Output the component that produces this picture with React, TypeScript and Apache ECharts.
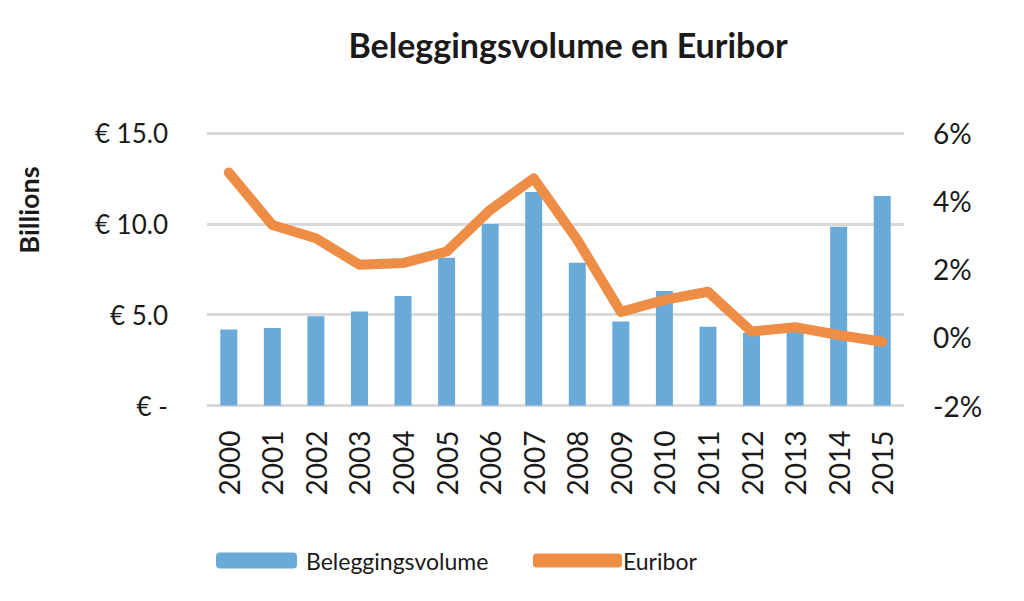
import React, { useEffect, useRef } from "react";
import * as echarts from "echarts";

const years = ["2000","2001","2002","2003","2004","2005","2006","2007","2008","2009","2010","2011","2012","2013","2014","2015"];
const volume = [4.19, 4.27, 4.91, 5.18, 6.03, 8.13, 9.99, 11.75, 7.86, 4.62, 6.30, 4.34, 4.0, 4.1, 9.84, 11.53];
const euribor = [4.84, 3.30, 2.91, 2.13, 2.18, 2.52, 3.74, 4.67, 2.86, 0.75, 1.10, 1.34, 0.17, 0.30, 0.07, -0.13];

const FONT = "Lato";
const TXT = "#1a1a1a";

export default function App() {
  const ref = useRef<HTMLDivElement>(null);
  useEffect(() => {
    if (!ref.current) return;
    const chart = echarts.init(ref.current, null, { renderer: "svg" });
    chart.setOption({
      animation: false,
      backgroundColor: "#ffffff",
      title: {
        text: "Beleggingsvolume en Euribor",
        left: 563,
        textAlign: "center",
        top: 22,
        textStyle: { fontFamily: FONT, fontSize: 34, fontWeight: "bold", color: TXT },
      },
      graphic: [
        {
          type: "text",
          x: 28,
          y: 210,
          rotation: Math.PI / 2,
          style: {
            text: "Billions",
            font: `bold 27px ${FONT}`,
            fill: TXT,
            align: "center",
            verticalAlign: "middle",
            textAlign: "center",
            textVerticalAlign: "middle",
          },
        },
      ],
      legend: [
        {
          data: ["Beleggingsvolume"],
          left: 216,
          top: 549,
          padding: 0,
          itemWidth: 81,
          itemHeight: 16,
          textStyle: { fontFamily: FONT, fontSize: 23, color: TXT, padding: [0, 0, 0, 4] },
        },
        {
          data: [{ name: "Euribor", icon: "roundRect" }],
          left: 533,
          top: 549,
          padding: 0,
          itemWidth: 89,
          itemHeight: 14,
          textStyle: { fontFamily: FONT, fontSize: 23, color: TXT, padding: [0, 0, 0, -4] },
        },
      ],
      grid: { left: 207, right: 120, top: 133, bottom: 195.5, containLabel: false },
      xAxis: {
        type: "category",
        data: years,
        axisLine: { show: false },
        axisTick: { show: false },
        axisLabel: {
          rotate: 90,
          margin: 25,
          fontFamily: FONT,
          fontSize: 28,
          color: TXT,
          interval: 0,
        },
      },
      yAxis: [
        {
          type: "value",
          min: 0,
          max: 15,
          interval: 5,
          axisLine: { show: false },
          axisTick: { show: false },
          splitLine: { lineStyle: { color: "#d9d9d9", width: 3 } },
          axisLabel: {
            margin: 39,
            fontFamily: FONT,
            fontSize: 26,
            color: TXT,
            padding: [10, 0, 0, 0],
            formatter: (v: number) => (v === 0 ? "€ -" : "€ " + v.toFixed(1)),
          },
        },
        {
          type: "value",
          min: -2,
          max: 6,
          interval: 2,
          axisLine: { show: false },
          axisTick: { show: false },
          splitLine: { show: false },
          axisLabel: {
            margin: 29,
            fontFamily: FONT,
            fontSize: 28,
            color: TXT,
            padding: [10, 0, 0, 0],
            formatter: (v: number) => v + "%",
          },
        },
      ],
      series: [
        {
          name: "Beleggingsvolume",
          type: "bar",
          data: volume,
          barWidth: 17,
          itemStyle: { color: "#6aaad9" },
          yAxisIndex: 0,
        },
        {
          name: "Euribor",
          type: "line",
          data: euribor,
          yAxisIndex: 1,
          symbol: "none",
          itemStyle: { color: "#ee8d45" },
          lineStyle: { color: "#ee8d45", width: 10, cap: "round", join: "round" },
        },
      ],
    });
    return () => chart.dispose();
  }, []);
  return (
    <div
      ref={ref}
      style={{ position: "fixed", left: 0, top: 0, width: 1024, height: 601 }}
    />
  );
}
